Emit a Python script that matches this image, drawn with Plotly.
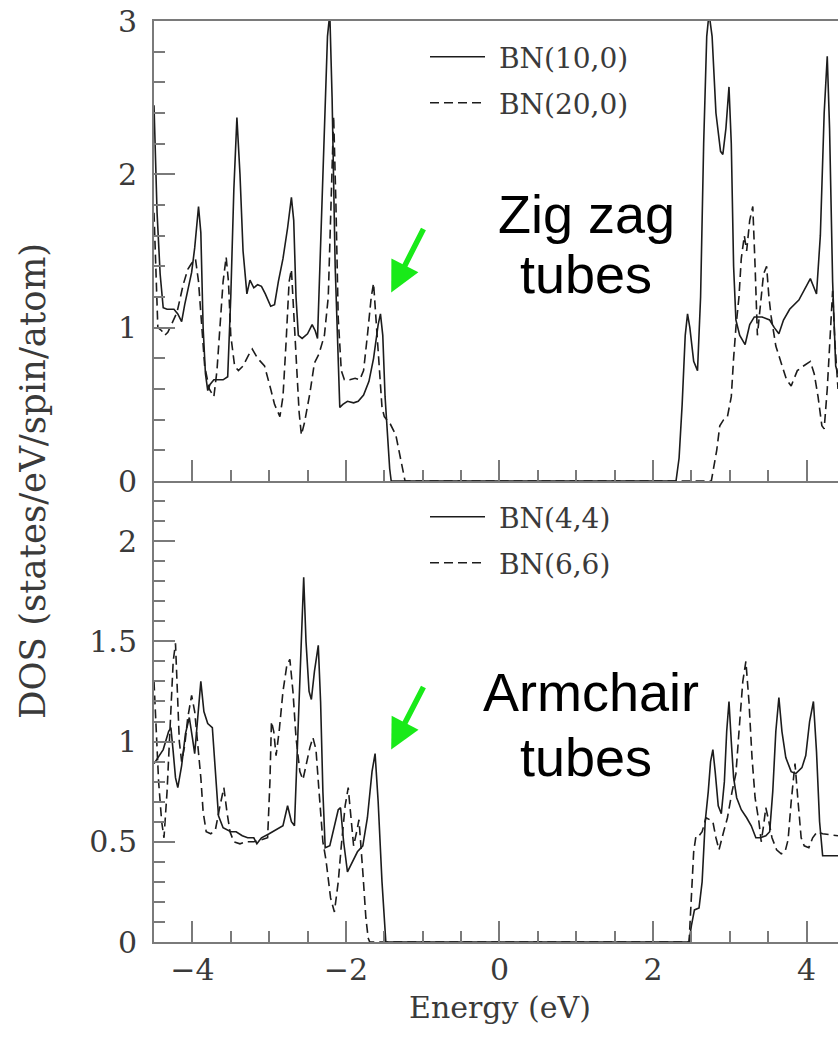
import plotly.graph_objects as go

# ---------------- data ----------------
# Top panel: zig-zag tubes
zz10_e = [-4.50, -4.46, -4.42, -4.38, -4.33, -4.24, -4.19, -4.14, -4.10, -4.05, -4.01, -3.97, -3.92, -3.89,
          -3.86, -3.83, -3.80, -3.77, -3.72, -3.60, -3.54, -3.50, -3.46, -3.42, -3.38, -3.34, -3.29, -3.25,
          -3.20, -3.15, -3.10, -3.05, -2.98, -2.93, -2.88, -2.82, -2.76, -2.71, -2.68, -2.65, -2.62, -2.57,
          -2.50, -2.44, -2.40, -2.37, -2.34, -2.29, -2.24, -2.21, -2.18, -2.14, -2.10, -2.08, -2.04, -1.98,
          -1.90, -1.84, -1.77, -1.70, -1.64, -1.58, -1.55, -1.52, -1.49, -1.46, -1.43, -1.41,
          2.30, 2.34, 2.38, 2.42, 2.45, 2.48, 2.53, 2.58, 2.62, 2.66, 2.70, 2.73, 2.77, 2.82, 2.88, 2.91,
          2.95, 2.99, 3.02, 3.05, 3.08, 3.13, 3.20, 3.26, 3.32, 3.42, 3.52, 3.58, 3.64, 3.70, 3.78, 3.90,
          3.97, 4.05, 4.09, 4.13, 4.18, 4.23, 4.27, 4.30, 4.34, 4.38, 4.41]
zz10_dos = [2.45, 1.75, 1.35, 1.13, 1.12, 1.12, 1.09, 1.04, 1.15, 1.28, 1.36, 1.52, 1.79, 1.62,
            1.00, 0.70, 0.59, 0.63, 0.66, 0.66, 0.68, 1.20, 1.90, 2.37, 2.00, 1.50, 1.22, 1.31,
            1.26, 1.28, 1.27, 1.22, 1.14, 1.15, 1.30, 1.45, 1.65, 1.85, 1.70, 1.20, 0.95, 0.93,
            0.96, 1.02, 0.98, 0.93, 1.40, 2.27, 2.90, 3.05, 2.50, 1.40, 0.70, 0.48, 0.50, 0.52,
            0.51, 0.52, 0.56, 0.65, 0.80, 1.02, 1.09, 0.95, 0.55, 0.30, 0.08, 0.00,
            0.00, 0.15, 0.50, 0.95, 1.09, 1.00, 0.78, 0.72, 1.20, 2.20, 2.90, 3.05, 2.90, 2.40, 2.15, 2.13,
            2.30, 2.57, 2.20, 1.40, 1.05, 0.95, 0.89, 1.02, 1.07, 1.07, 1.05, 1.00, 0.96, 1.05, 1.12, 1.18,
            1.25, 1.32, 1.27, 1.22, 1.60, 2.40, 2.77, 2.30, 1.30, 0.75, 0.70]

zz20_e = [-4.50, -4.47, -4.45, -4.40, -4.36, -4.32, -4.27, -4.20, -4.12, -4.06, -4.01, -3.96, -3.92, -3.88,
          -3.84, -3.78, -3.72, -3.68, -3.64, -3.60, -3.56, -3.53, -3.50, -3.45, -3.40, -3.34, -3.27, -3.22,
          -3.15, -3.06, -2.98, -2.93, -2.86, -2.82, -2.78, -2.74, -2.71, -2.68, -2.64, -2.61, -2.58, -2.54,
          -2.47, -2.41, -2.35, -2.28, -2.23, -2.19, -2.16, -2.13, -2.10, -2.06, -2.02, -1.95, -1.88, -1.82,
          -1.77, -1.72, -1.67, -1.64, -1.60, -1.56, -1.53, -1.50, -1.42, -1.35, -1.30, -1.25, -1.23,
          2.76, 2.80, 2.83, 2.87, 2.92, 2.97, 3.02, 3.05, 3.08, 3.12, 3.15, 3.19, 3.22, 3.26, 3.30, 3.33,
          3.36, 3.40, 3.44, 3.48, 3.51, 3.54, 3.60, 3.67, 3.74, 3.80, 3.88, 3.96, 4.05, 4.10, 4.15, 4.20,
          4.23, 4.27, 4.31, 4.34, 4.37, 4.41]
zz20_dos = [1.75, 1.30, 1.00, 0.98, 0.95, 0.97, 1.02, 1.10, 1.28, 1.38, 1.42, 1.45, 1.30, 1.00,
            0.75, 0.60, 0.55, 0.72, 1.00, 1.30, 1.46, 1.30, 0.95, 0.75, 0.72, 0.75, 0.82, 0.86,
            0.80, 0.75, 0.60, 0.50, 0.42, 0.55, 0.90, 1.30, 1.38, 1.10, 0.72, 0.45, 0.30, 0.38,
            0.57, 0.77, 0.83, 0.95, 1.20, 1.90, 2.38, 1.80, 1.06, 0.72, 0.66, 0.66, 0.67, 0.66,
            0.72, 0.95, 1.20, 1.29, 1.00, 0.72, 0.48, 0.42, 0.37, 0.30, 0.18, 0.04, 0.00,
            0.00, 0.10, 0.20, 0.36, 0.40, 0.42, 0.55, 0.80, 1.00, 1.20, 1.45, 1.60, 1.50, 1.70, 1.79, 1.40,
            0.95, 1.15, 1.35, 1.40, 1.20, 1.07, 0.88, 0.77, 0.66, 0.62, 0.72, 0.75, 0.78, 0.70, 0.55, 0.36,
            0.34, 0.60, 1.00, 1.24, 0.90, 0.60]

# Bottom panel: armchair tubes
ac44_e = [-4.50, -4.45, -4.38, -4.31, -4.28, -4.25, -4.22, -4.19, -4.14, -4.09, -4.04, -4.00, -3.97, -3.93,
          -3.89, -3.85, -3.80, -3.74, -3.70, -3.66, -3.60, -3.50, -3.43, -3.35, -3.28, -3.20, -3.16, -3.10,
          -3.00, -2.90, -2.82, -2.76, -2.71, -2.67, -2.63, -2.59, -2.55, -2.52, -2.48, -2.45, -2.41, -2.36,
          -2.33, -2.30, -2.27, -2.21, -2.15, -2.10, -2.07, -2.03, -1.98, -1.92, -1.85, -1.78, -1.72, -1.66,
          -1.62, -1.58, -1.53, -1.48,
          2.47, 2.50, 2.54, 2.60, 2.64, 2.68, 2.72, 2.75, 2.78, 2.81, 2.85, 2.89, 2.93, 2.96, 2.99, 3.02,
          3.05, 3.09, 3.15, 3.22, 3.28, 3.34, 3.40, 3.47, 3.52, 3.56, 3.60, 3.64, 3.68, 3.73, 3.80, 3.86,
          3.94, 3.99, 4.04, 4.09, 4.13, 4.17, 4.21, 4.41]
ac44_dos = [0.89, 0.92, 0.96, 1.05, 1.07, 0.95, 0.82, 0.77, 0.88, 1.04, 1.12, 1.02, 0.94, 1.12,
            1.30, 1.15, 1.09, 1.07, 0.85, 0.63, 0.57, 0.55, 0.55, 0.53, 0.52, 0.52, 0.49, 0.52,
            0.54, 0.56, 0.58, 0.68, 0.60, 0.58, 1.00, 1.50, 1.82, 1.50, 1.25, 1.21, 1.35, 1.48,
            1.20, 0.75, 0.47, 0.48, 0.58, 0.66, 0.67, 0.50, 0.35, 0.40, 0.45, 0.48, 0.62, 0.85,
            0.94, 0.70, 0.30, 0.00,
            0.00, 0.08, 0.16, 0.17, 0.30, 0.60, 0.75, 0.90, 0.96, 0.85, 0.68, 0.64, 0.80, 1.05, 1.20, 1.00,
            0.82, 0.72, 0.66, 0.62, 0.58, 0.52, 0.52, 0.53, 0.55, 0.75, 1.05, 1.22, 1.05, 0.92, 0.85, 0.84,
            0.87, 0.93, 1.10, 1.20, 0.95, 0.60, 0.43, 0.43]

ac66_e = [-4.50, -4.47, -4.44, -4.40, -4.37, -4.33, -4.29, -4.25, -4.22, -4.20, -4.17, -4.14, -4.10, -4.06,
          -4.01, -3.97, -3.93, -3.89, -3.86, -3.82, -3.76, -3.70, -3.64, -3.59, -3.55, -3.51, -3.46, -3.38,
          -3.30, -3.20, -3.10, -3.02, -2.99, -2.97, -2.94, -2.91, -2.87, -2.82, -2.77, -2.73, -2.69, -2.65,
          -2.60, -2.56, -2.52, -2.47, -2.43, -2.39, -2.35, -2.30, -2.26, -2.20, -2.15, -2.10, -2.06, -2.01,
          -1.97, -1.93, -1.90, -1.86, -1.83, -1.78, -1.74, -1.71, -1.69,
          2.47, 2.50, 2.53, 2.56, 2.60, 2.64, 2.69, 2.74, 2.78, 2.82, 2.86, 2.92, 2.97, 3.03, 3.08, 3.13,
          3.17, 3.21, 3.25, 3.29, 3.33, 3.38, 3.41, 3.44, 3.47, 3.51, 3.55, 3.61, 3.67, 3.72, 3.76, 3.80,
          3.85, 3.89, 3.93, 3.97, 4.03, 4.08, 4.14, 4.21, 4.41]
ac66_dos = [1.30, 1.05, 0.80, 0.60, 0.52, 0.75, 1.10, 1.40, 1.49, 1.25, 1.00, 0.90, 0.98, 1.12,
            1.23, 1.15, 1.00, 0.82, 0.65, 0.55, 0.54, 0.56, 0.68, 0.77, 0.65, 0.55, 0.50, 0.49,
            0.50, 0.50, 0.51, 0.52, 0.80, 1.10, 1.05, 0.93, 1.05, 1.25, 1.38, 1.41, 1.25, 1.02,
            0.85, 0.81, 0.88, 0.97, 1.02, 0.96, 0.75, 0.50, 0.41, 0.22, 0.15, 0.30, 0.48, 0.68,
            0.77, 0.60, 0.48, 0.55, 0.61, 0.35, 0.12, 0.02, 0.00,
            0.00, 0.20, 0.45, 0.53, 0.53, 0.55, 0.62, 0.61, 0.60, 0.52, 0.46, 0.55, 0.62, 0.75, 0.84, 1.10,
            1.30, 1.40, 1.20, 0.92, 0.72, 0.60, 0.50, 0.58, 0.67, 0.60, 0.52, 0.46, 0.44, 0.45, 0.51, 0.70,
            0.89, 0.70, 0.52, 0.48, 0.47, 0.52, 0.55, 0.54, 0.53]

x_ticks = [-4, -2, 0, 2, 4]
top_y_ticks = [0, 1, 2, 3]
bottom_y_ticks = [0, 0.5, 1, 1.5, 2]

# ---------------- style ----------------
SERIF = "DejaVu Serif"
LINE_COL = "#1c1c1c"
AXIS_COL = "#7a7a7a"
TXT_COL = "#3a3a3a"
GREEN = "#19ea19"
DASH = "9px,5px"

fig = go.Figure()

fig.add_trace(go.Scatter(x=zz10_e, y=zz10_dos, mode="lines", name="\u00a0BN(10,0)",
                         line=dict(color=LINE_COL, width=1.6), xaxis="x2", yaxis="y2", legend="legend"))
fig.add_trace(go.Scatter(x=zz20_e, y=zz20_dos, mode="lines", name="\u00a0BN(20,0)",
                         line=dict(color=LINE_COL, width=1.6, dash=DASH), xaxis="x2", yaxis="y2", legend="legend2"))
fig.add_trace(go.Scatter(x=ac44_e, y=ac44_dos, mode="lines", name="\u00a0BN(4,4)",
                         line=dict(color=LINE_COL, width=1.6), xaxis="x", yaxis="y", legend="legend3"))
fig.add_trace(go.Scatter(x=ac66_e, y=ac66_dos, mode="lines", name="\u00a0BN(6,6)",
                         line=dict(color=LINE_COL, width=1.6, dash=DASH), xaxis="x", yaxis="y", legend="legend4"))

W, H = 838, 1038
ML, MR, MT, MB = 154, 0, 21, 96
PW, PH = W - ML - MR, H - MT - MB
split = 461 / PH


def px_to_paper_x(px):
    return (px - ML) / PW


def px_to_paper_y(py):
    return (H - MB - py) / PH


xcommon = dict(range=[-4.5, 4.41], tickvals=x_ticks, ticks="inside", ticklen=21, tickwidth=1.5,
               tickcolor=AXIS_COL, showline=True, linecolor=AXIS_COL, linewidth=2,
               showgrid=False, zeroline=False,
               minor=dict(dtick=0.5, tick0=0, ticks="inside", ticklen=11, tickwidth=1.5,
                          tickcolor=AXIS_COL, showgrid=False),
               tickfont=dict(family=SERIF, size=30, color=TXT_COL))

ycommon = dict(ticks="inside", ticklen=21, tickwidth=1.5, tickcolor=AXIS_COL, showline=True,
               linecolor=AXIS_COL, linewidth=2, showgrid=False, zeroline=False, mirror=False,
               tickfont=dict(family=SERIF, size=30, color=TXT_COL), ticklabelstandoff=9)

legend_common = dict(xanchor="left", yanchor="middle", bgcolor="rgba(0,0,0,0)", borderwidth=0,
                     font=dict(family=SERIF, size=28, color=TXT_COL), itemwidth=55,
                     tracegroupgap=0)

fig.update_layout(
    width=W, height=H,
    margin=dict(l=ML, r=MR, t=MT, b=MB),
    paper_bgcolor="white", plot_bgcolor="white",
    showlegend=True,
    xaxis=dict(**xcommon, anchor="y", domain=[0, 1], ticklabelstandoff=0),
    xaxis2=dict(**xcommon, anchor="y2", matches="x", showticklabels=False, mirror=True),
    yaxis=dict(**ycommon, domain=[0, split], range=[0, 2.3], tickvals=bottom_y_ticks,
               ticktext=["0", "0.5", "1", "1.5", "2"],
               minor=dict(dtick=0.1, tick0=0, ticks="inside", ticklen=11, tickwidth=1.5,
                          tickcolor=AXIS_COL, showgrid=False)),
    yaxis2=dict(**ycommon, domain=[split, 1], range=[0, 3], tickvals=top_y_ticks,
                minor=dict(dtick=0.2, tick0=0, ticks="inside", ticklen=11, tickwidth=1.5,
                           tickcolor=AXIS_COL, showgrid=False)),
    legend=dict(**legend_common, x=px_to_paper_x(425), y=px_to_paper_y(57)),
    legend2=dict(**legend_common, x=px_to_paper_x(425), y=px_to_paper_y(103)),
    legend3=dict(**legend_common, x=px_to_paper_x(425), y=px_to_paper_y(517)),
    legend4=dict(**legend_common, x=px_to_paper_x(425), y=px_to_paper_y(563)),
)

annotations = [
    dict(text="Energy (eV)", xref="paper", yref="paper", x=px_to_paper_x(500), y=px_to_paper_y(1007),
         xanchor="center", yanchor="middle", showarrow=False,
         font=dict(family=SERIF, size=30, color=TXT_COL)),
    dict(text="DOS (states/eV/spin/atom)", xref="paper", yref="paper", x=px_to_paper_x(32),
         y=px_to_paper_y(481), xanchor="center", yanchor="middle", textangle=-90, showarrow=False,
         font=dict(family=SERIF, size=35.5, color=TXT_COL)),
    dict(text="Zig zag", xref="paper", yref="paper", x=px_to_paper_x(586), y=px_to_paper_y(214),
         xanchor="center", yanchor="middle", showarrow=False,
         font=dict(family="Liberation Sans", size=54, color="black")),
    dict(text="tubes", xref="paper", yref="paper", x=px_to_paper_x(586), y=px_to_paper_y(274),
         xanchor="center", yanchor="middle", showarrow=False,
         font=dict(family="Liberation Sans", size=54, color="black")),
    dict(text="Armchair", xref="paper", yref="paper", x=px_to_paper_x(591), y=px_to_paper_y(692),
         xanchor="center", yanchor="middle", showarrow=False,
         font=dict(family="Liberation Sans", size=54, color="black")),
    dict(text="tubes", xref="paper", yref="paper", x=px_to_paper_x(586), y=px_to_paper_y(757),
         xanchor="center", yanchor="middle", showarrow=False,
         font=dict(family="Liberation Sans", size=54, color="black")),
    # green arrows pointing at the band edges
    dict(text="", xref="x2", yref="y2", x=-1.41, y=1.23, ax=33, ay=-65, axref="pixel", ayref="pixel",
         showarrow=True, arrowhead=2, arrowsize=1.1, arrowwidth=5.5, arrowcolor=GREEN),
    dict(text="", xref="x", yref="y", x=-1.41, y=0.96, ax=33, ay=-64, axref="pixel", ayref="pixel",
         showarrow=True, arrowhead=2, arrowsize=1.1, arrowwidth=5.5, arrowcolor=GREEN),
]
fig.update_layout(annotations=annotations)

fig.write_html("out.html")
